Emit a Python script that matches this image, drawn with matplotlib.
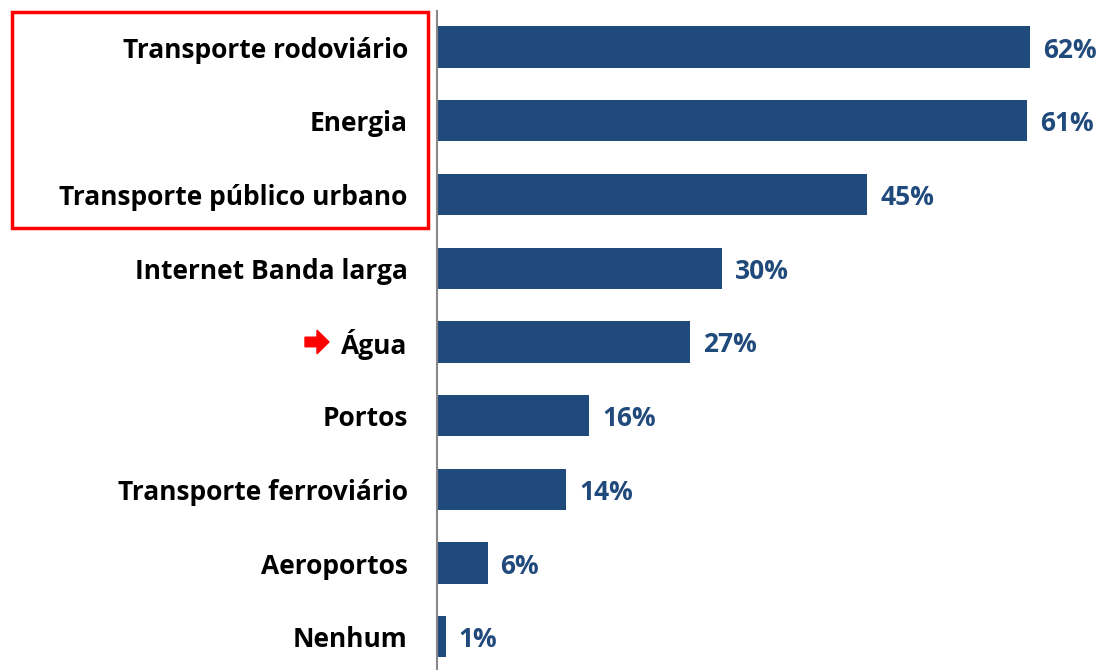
import matplotlib.pyplot as plt
import matplotlib.patches as mpatches
import matplotlib.transforms as mtransforms

# Chart data
categories = ['Transporte rodoviário', 'Energia', 'Transporte público urbano',
              'Internet Banda larga', 'Água', 'Portos', 'Transporte ferroviário',
              'Aeroportos', 'Nenhum']
values = [62.0, 61.7, 45.0, 29.8, 26.5, 15.9, 13.5, 5.3, 0.9]
labels = ['62%', '61%', '45%', '30%', '27%', '16%', '14%', '6%', '1%']

bar_color = '#214a7c'
font = 'Open Sans'

fig = plt.figure(figsize=(11.02, 6.70), dpi=100)
ax = fig.add_axes([437 / 1102, 0.0, 1 - 437 / 1102, 1 - 11 / 670])

pos = list(range(len(categories)))
ax.barh(pos, values, height=0.56, color=bar_color)
ax.set_xlim(0, 665 / 9.565)
ax.set_ylim(len(categories) - 1 + 0.45, -0.49)

for p, v, lab in zip(pos, values, labels):
    ax.text(v + 1.35, p + 0.04, lab, va='center', ha='left', fontsize=19,
            fontweight='bold', color=bar_color, family=font)

ax.set_yticks(pos)
ax.set_yticklabels(categories, fontsize=19, fontweight='bold', family=font)
for t in ax.get_yticklabels():
    t.set_va('center_baseline')
ax.tick_params(axis='y', length=0, pad=21)
ax.set_xticks([])
for side in ['top', 'right', 'bottom']:
    ax.spines[side].set_visible(False)
ax.spines['left'].set_color('#888888')
ax.spines['left'].set_linewidth(1.5)

# red box round the top three categories
box = mpatches.Rectangle((12 / 1102, 1 - 228 / 670), 416 / 1102, 216 / 670,
                         transform=fig.transFigure, fill=False,
                         edgecolor='#ff0000', linewidth=2.5)
fig.patches.append(box)

# red arrow pointing at "Água"
trans = mtransforms.blended_transform_factory(fig.transFigure, ax.transData)
arrow = mpatches.FancyArrow(305 / 1102, 4, 12 / 1102, 0, width=0.13,
                            head_width=0.32, head_length=12 / 1102,
                            length_includes_head=False, transform=trans,
                            color='#ff0000', clip_on=False)
fig.patches.append(arrow)

plt.savefig('out.png', dpi=100)
